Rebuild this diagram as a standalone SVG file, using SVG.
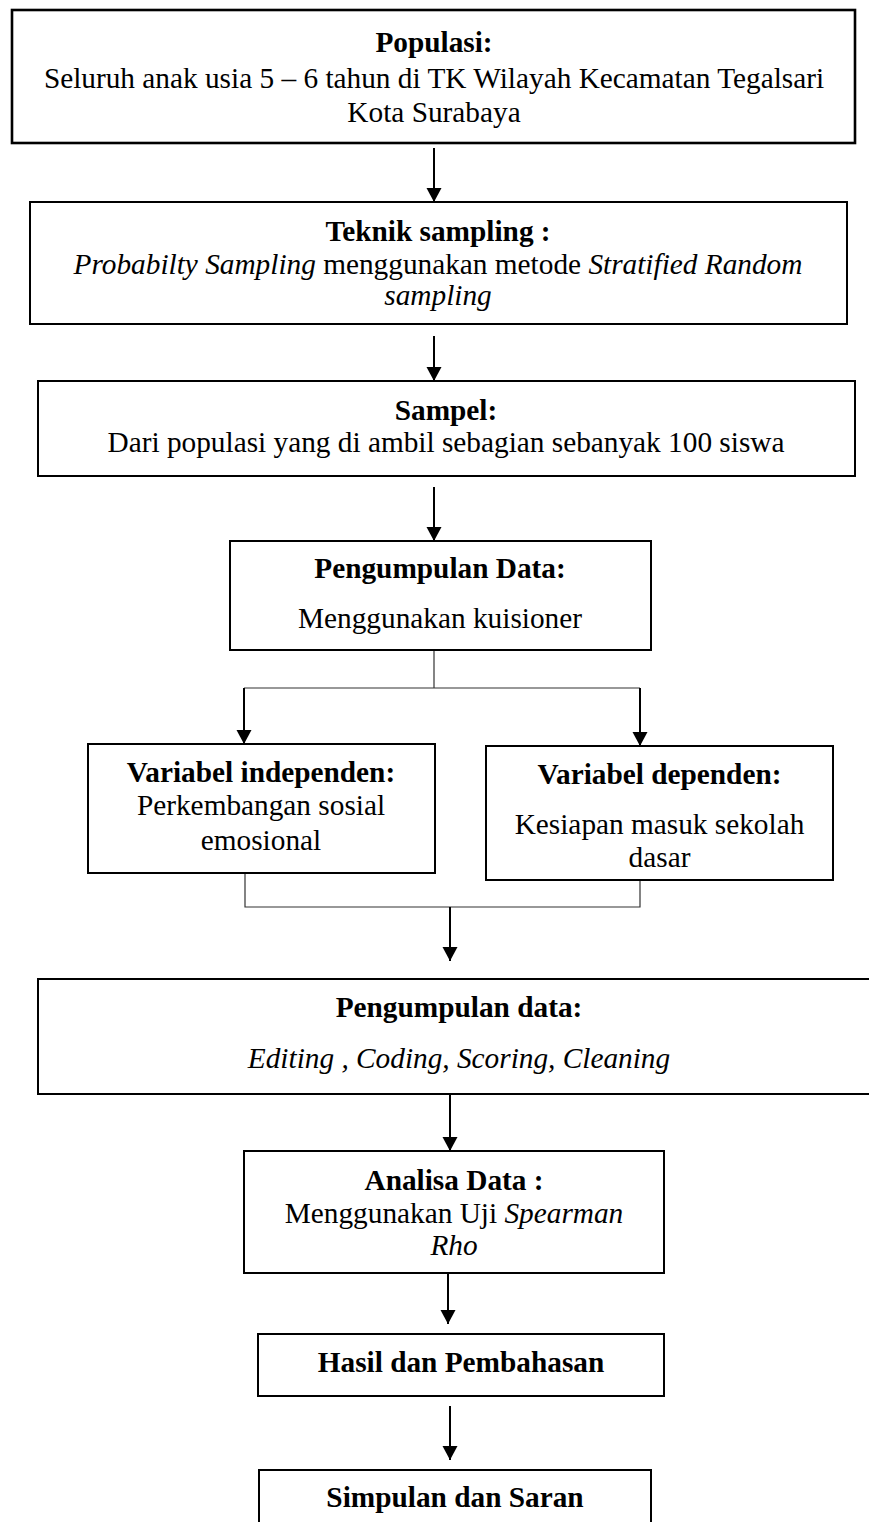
<svg xmlns="http://www.w3.org/2000/svg" width="869" height="1522" viewBox="0 0 869 1522">
<style>
.box{fill:#fff;stroke:#000;stroke-width:2}
.t{font-family:"Liberation Serif","Times New Roman",serif;font-size:29.3px;fill:#000;text-anchor:middle}
.b{font-weight:bold}
.i{font-style:italic}
.arr{stroke:#000;stroke-width:2;fill:none;marker-end:url(#ah)}
.thin{stroke:#333;stroke-width:1.2;fill:none}
</style>
<defs>
<marker id="ah" markerUnits="userSpaceOnUse" markerWidth="16" markerHeight="16" refX="14" refY="7.5" orient="auto">
<path d="M0,0 L14,7.5 L0,15 Z" fill="#000"/>
</marker>
</defs>
<rect width="869" height="1522" fill="#fff"/>
<g id="connectors">
<line class="arr" x1="434" y1="148" x2="434" y2="202"/>
<line class="arr" x1="434" y1="336" x2="434" y2="381"/>
<line class="arr" x1="434" y1="487" x2="434" y2="541"/>
<polyline class="thin" points="434,650 434,688"/>
<polyline class="thin" points="244,688 640,688"/>
<line class="arr" x1="244" y1="688" x2="244" y2="744"/>
<line class="arr" x1="640" y1="688" x2="640" y2="746"/>
<polyline class="thin" points="245,873 245,907 640,907 640,870"/>
<line class="arr" x1="450" y1="907" x2="450" y2="961"/>
<line class="arr" x1="450" y1="1094" x2="450" y2="1151"/>
<line class="arr" x1="448" y1="1269" x2="448" y2="1324"/>
<line class="arr" x1="450" y1="1406" x2="450" y2="1460"/>
</g>
<g id="populasi">
<rect class="box" x="12" y="10" width="843" height="133" style="stroke-width:2.6"/>
<text class="t b" x="434" y="52">Populasi:</text>
<text class="t" x="434" y="88">Seluruh anak usia 5 – 6 tahun di TK Wilayah Kecamatan Tegalsari</text>
<text class="t" x="434" y="122">Kota Surabaya</text>
</g>
<g id="teknik">
<rect class="box" x="30" y="202" width="817" height="122"/>
<text class="t b" x="438" y="241">Teknik sampling :</text>
<text class="t" x="438" y="274"><tspan class="i">Probabilty Sampling</tspan> menggunakan metode <tspan class="i">Stratified Random</tspan></text>
<text class="t i" x="438" y="305">sampling</text>
</g>
<g id="sampel">
<rect class="box" x="38" y="381" width="817" height="95"/>
<text class="t b" x="446" y="420">Sampel:</text>
<text class="t" x="446" y="452">Dari populasi yang di ambil sebagian sebanyak 100 siswa</text>
</g>
<g id="pengumpulan1">
<rect class="box" x="230" y="541" width="421" height="109"/>
<text class="t b" x="440" y="578">Pengumpulan Data:</text>
<text class="t" x="440" y="628">Menggunakan kuisioner</text>
</g>
<g id="independen">
<rect class="box" x="88" y="744" width="347" height="129"/>
<text class="t b" x="261" y="782">Variabel independen:</text>
<text class="t" x="261" y="815">Perkembangan sosial</text>
<text class="t" x="261" y="850">emosional</text>
</g>
<g id="dependen">
<rect class="box" x="486" y="746" width="347" height="134"/>
<text class="t b" x="659.5" y="784">Variabel dependen:</text>
<text class="t" x="659.5" y="834">Kesiapan masuk sekolah</text>
<text class="t" x="659.5" y="867">dasar</text>
</g>
<g id="pengumpulan2">
<rect class="box" x="38" y="979" width="834" height="115"/>
<text class="t b" x="459" y="1017">Pengumpulan data:</text>
<text class="t i" x="459" y="1068">Editing , Coding, Scoring, Cleaning</text>
</g>
<g id="analisa">
<rect class="box" x="244" y="1151" width="420" height="122"/>
<text class="t b" x="454" y="1190">Analisa Data :</text>
<text class="t" x="454" y="1223">Menggunakan Uji <tspan class="i">Spearman</tspan></text>
<text class="t i" x="454" y="1255">Rho</text>
</g>
<g id="hasil">
<rect class="box" x="258" y="1334" width="406" height="62"/>
<text class="t b" x="461" y="1372">Hasil dan Pembahasan</text>
</g>
<g id="simpulan">
<rect class="box" x="259" y="1470" width="392" height="80"/>
<text class="t b" x="455" y="1507">Simpulan dan Saran</text>
</g>
</svg>
